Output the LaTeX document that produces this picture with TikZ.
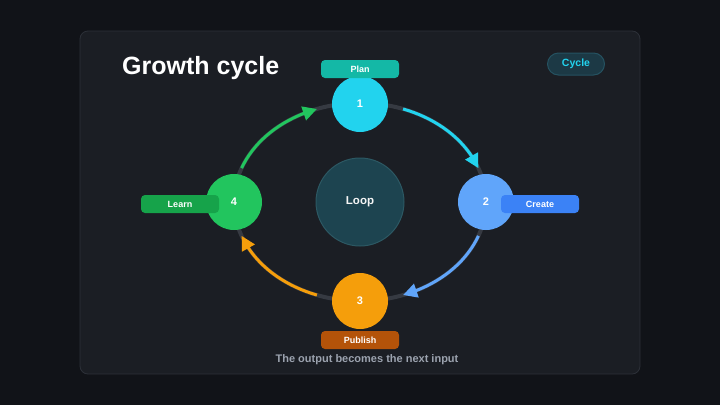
\documentclass[tikz,border=0pt]{standalone}
\usepackage{fontspec}
\setmainfont{Liberation Sans}
\usetikzlibrary{arrows.meta,bending,calc}
\definecolor{bgout}{HTML}{111318}
\definecolor{card}{HTML}{1B1E24}
\definecolor{cardline}{HTML}{2C3038}
\definecolor{ringgray}{HTML}{363A42}
\definecolor{cyanc}{HTML}{22D3EE}
\definecolor{bluec}{HTML}{60A5FA}
\definecolor{orangec}{HTML}{F59E0B}
\definecolor{greenc}{HTML}{22C55E}
\definecolor{plancol}{HTML}{14B8A6}
\definecolor{createcol}{HTML}{3B82F6}
\definecolor{publishcol}{HTML}{B45309}
\definecolor{learncol}{HTML}{16A34A}
\definecolor{loopfill}{HTML}{1D4450}
\definecolor{loopline}{HTML}{2C5863}
\definecolor{pillfill}{HTML}{1C3945}
\definecolor{pillline}{HTML}{255261}
\definecolor{captcol}{HTML}{9CA3AF}
\tikzset{
  stepcircle/.style={circle, minimum size=56pt, inner sep=0pt, text=white, font=\bfseries\fontsize{11}{13}\selectfont},
  labelpill/.style={rounded corners=4pt, minimum width=78pt, minimum height=18pt, inner sep=0pt, text=white, font=\bfseries\fontsize{9}{11}\selectfont},
  arcline/.style={line width=3pt, -{Triangle[length=14pt,width=14pt,flex]}},
}
\begin{document}
\begin{tikzpicture}[x=1pt,y=-1pt]
\useasboundingbox (0,0) rectangle (720,405);
\fill[bgout] (0,0) rectangle (720,405);
\draw[cardline, fill=card, rounded corners=8pt, line width=0.8pt] (80,31) rectangle (640,374);
\node[anchor=base west, text=white, font=\bfseries\fontsize{25}{30}\selectfont, inner sep=0pt] (title) at (122,74) {Growth cycle};
\node[draw=pillline, fill=pillfill, line width=1pt, rounded corners=11pt, minimum width=57pt, minimum height=22pt, inner sep=0pt, text=cyanc, font=\bfseries\fontsize{10.5}{12}\selectfont] (tag) at (576,64) {Cycle};
\coordinate (ring) at (360,202);
\draw[ringgray, line width=4pt] (ring) ellipse [x radius=126pt, y radius=99pt];
\node[circle, fill=loopfill, draw=loopline, line width=1pt, minimum size=88pt, inner sep=0pt, text=white!92!gray, font=\bfseries\fontsize{11.5}{13}\selectfont] (loop) at (360,202) {Loop};
\node[stepcircle, fill=cyanc] (n1) at (360,104) {1};
\node[stepcircle, fill=bluec] (n2) at (486,202) {2};
\node[stepcircle, fill=orangec] (n3) at (360,301) {3};
\node[stepcircle, fill=greenc] (n4) at (234,202) {4};
\draw[arcline, cyanc] ($(ring)+(70:126pt and 99pt)$) arc[start angle=70, end angle=20, x radius=126pt, y radius=99pt];
\draw[arcline, bluec] ($(ring)+(-20:126pt and 99pt)$) arc[start angle=-20, end angle=-70, x radius=126pt, y radius=99pt];
\draw[arcline, orangec] ($(ring)+(-110:126pt and 99pt)$) arc[start angle=-110, end angle=-160, x radius=126pt, y radius=99pt];
\draw[arcline, greenc] ($(ring)+(160:126pt and 99pt)$) arc[start angle=160, end angle=110, x radius=126pt, y radius=99pt];
\node[labelpill, fill=plancol] (plan) at (360,69) {Plan};
\node[labelpill, fill=createcol] (create) at (540,204) {Create};
\node[labelpill, fill=publishcol] (publish) at (360,340) {Publish};
\node[labelpill, fill=learncol] (learn) at (180,204) {Learn};
\node[text=captcol, font=\bfseries\fontsize{11}{13}\selectfont, inner sep=0pt] (caption) at (367,360) {The output becomes the next input};
\end{tikzpicture}
\end{document}
